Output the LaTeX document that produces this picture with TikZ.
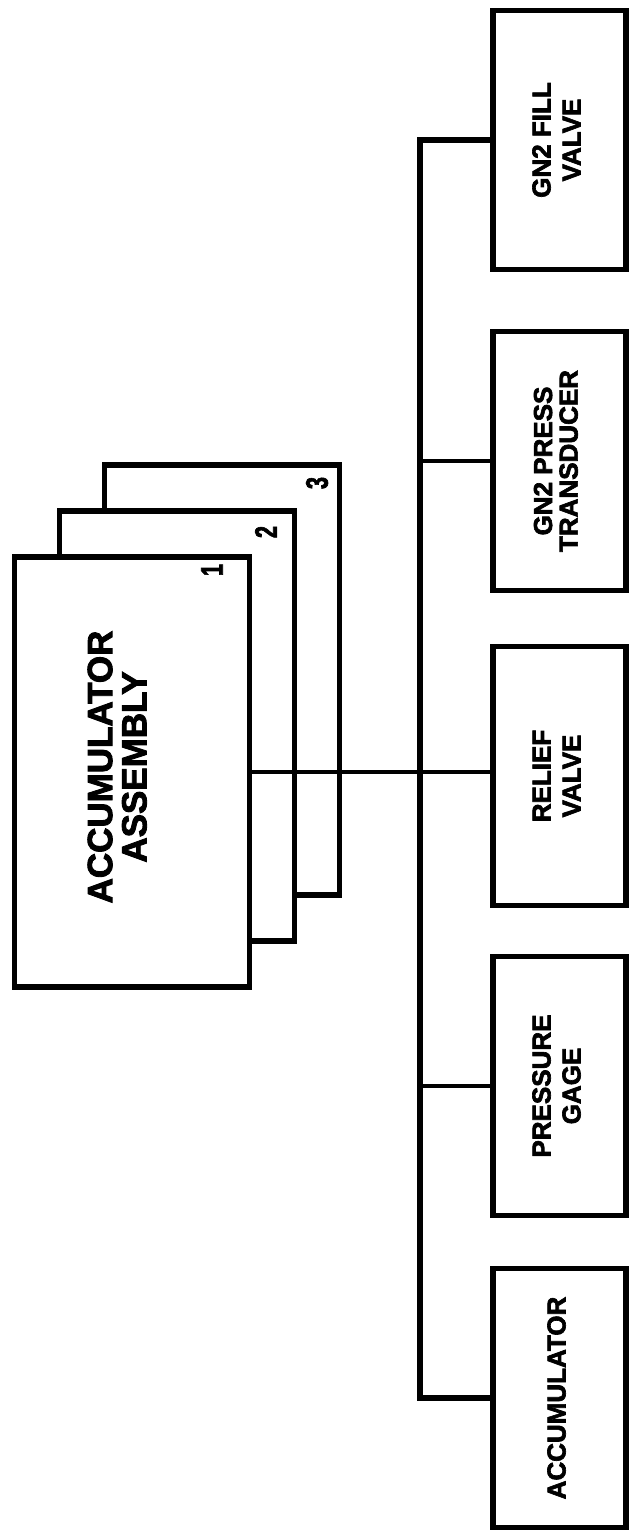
\documentclass[tikz,border=0pt]{standalone}
\usepackage{graphicx}
\usepackage{fontspec}
\setmainfont{Liberation Sans}
\newfontfamily\heavy{Liberation Sans Bold}[FakeBold=2.5]
\newcommand{\vlines}[1]{\rotatebox{90}{\begin{tabular}{@{}c@{}}#1\end{tabular}}}
\newcommand{\vdigit}[1]{\rotatebox{90}{\scalebox{0.7}[1]{#1}}}
\begin{document}
\begin{tikzpicture}[x=1pt,y=-1pt,
  compbox/.style={draw, line width=5.5pt, fill=white, inner sep=0pt,
    minimum width=133pt, minimum height=259pt,
    font=\fontsize{26}{30}\selectfont\heavy},
  stackbox/.style={draw, line width=5.5pt, fill=white, inner sep=0pt,
    minimum width=235pt, minimum height=430pt},
  bigtext/.style={inner sep=0pt, font=\fontsize{35}{33}\selectfont\heavy},
  numlbl/.style={inner sep=0pt, font=\fontsize{31}{31}\selectfont\heavy},
  busline/.style={line width=6.5pt},
  branchline/.style={line width=4.5pt},
  mainline/.style={line width=3.5pt}]
\useasboundingbox (0,0) rectangle (630,1531);

% stacked assembly boxes
\node[stackbox] (box3) at (222,680) {};
\node[stackbox] (box2) at (177,726) {};
\node[stackbox] (box1) at (132,772) {};
\node[bigtext] (asmtext) at ([shift={(-10,-5)}]box1.center) {\vlines{ACCUMULATOR\\ASSEMBLY}};
\node[numlbl] (n1) at (212,570) {\vdigit{1}};
\node[numlbl] (n2) at (266,532) {\vdigit{2}};
\node[numlbl] (n3) at (317,483) {\vdigit{3}};

% component boxes
\node[compbox] (fill)   at (559.5,140)  {\vlines{GN2 FILL\\VALVE}};
\node[compbox, font=\fontsize{26}{25}\selectfont\heavy] (press)  at (559.5,461)  {\vlines{GN2 PRESS\\TRANSDUCER}};
\node[compbox] (relief) at (559.5,776)  {\vlines{RELIEF\\VALVE}};
\node[compbox] (gage)   at (559.5,1086) {\vlines{PRESSURE\\GAGE}};
\node[compbox] (acc)    at (559.5,1398) {\vlines{ACCUMULATOR}};

% connectors
\coordinate (busx) at (420,0);
\draw[mainline] (box1.east) -- (box1.east -| relief.west);
\draw[busline] (fill.west) -| (busx |- acc.west) -- (acc.west);
\draw[branchline] (press.west) -- (press.west -| busx);
\draw[branchline] (gage.west) -- (gage.west -| busx);
\end{tikzpicture}
\end{document}
